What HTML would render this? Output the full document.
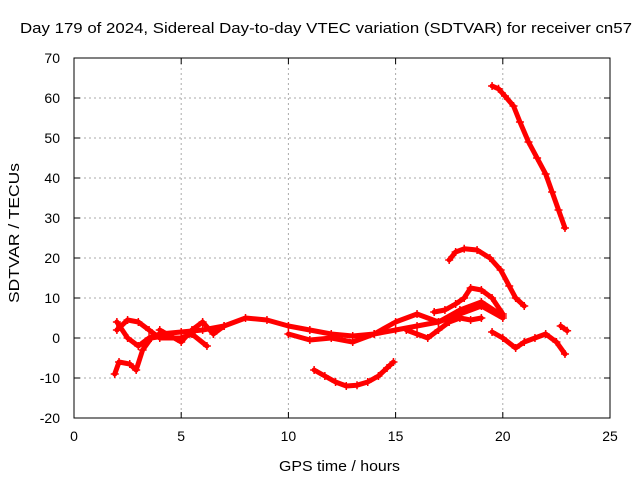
<!DOCTYPE html>
<html><head><meta charset="utf-8"><style>
body{margin:0;background:#fff;}
svg{display:block;font-family:"Liberation Sans",sans-serif;}
</style></head><body>
<svg id="chart" width="640" height="480" viewBox="0 0 640 480"></svg>
<script>
const xTicks=[0,5,10,15,20,25];
const yTicks=[-20,-10,0,10,20,30,40,50,60,70];
const seriesA=[[19.5,63],[19.8,62.3],[20.1,60.5],[20.5,58],[20.8,54],[21.2,49],[21.6,45],[22,41],[22.3,36.5],[22.6,32],[22.9,27.5]];
const seriesB=[[17.5,19.5],[17.8,21.5],[18.2,22.3],[18.8,22],[19.4,20],[19.9,17],[20.3,13],[20.6,10],[21,8]];
const seriesC=[[16.8,6.5],[17.3,7],[17.8,8.5],[18.2,10],[18.5,12.5],[19,12],[19.5,10],[20,6]];
const seriesD=[[11.2,-8],[11.7,-9.5],[12.2,-11],[12.7,-12],[13.2,-11.8],[13.7,-11],[14.2,-9.5],[14.6,-7.5],[14.9,-6]];
const seriesE=[[2,4],[2.5,0],[3,-2],[3.5,0],[4,1],[5,1.5],[6,2],[7,3],[8,5],[9,4.5],[10,3],[11,2],[12,1],[13,0.5],[14,1],[15,2],[16,3],[17,4],[18,6],[19,8],[20,5]];
const seriesF=[[1.9,-9],[2.1,-6],[2.6,-6.5],[2.9,-8],[3.2,-3],[3.6,0],[4.2,0.5]];
const seriesG=[[2,2],[2.5,4.5],[3,4],[3.5,2],[4,0],[5,0],[5.5,1],[6.2,-2]];
const seriesH=[[19.5,1.5],[20,0],[20.6,-2.5],[21,-1],[21.5,0],[22,1],[22.5,-1],[22.9,-4]];
const seriesI=[[22.7,3],[23,1.8]];
const seriesJ=[[15.5,2],[16,1],[16.5,0],[17,2],[17.5,4],[18,5],[18.5,4.5],[19,5]];
const seriesK=[[10,1],[11,-0.5],[12,0],[13,-1],[14,1],[15,4],[16,6],[17,4],[18,7],[19,9],[20,5.5]];
const seriesL=[[4,2],[5,-1],[5.5,2],[6,4],[6.5,1],[7,3]];
const allSeries=[seriesA,seriesB,seriesC,seriesD,seriesE,seriesF,seriesG,seriesH,seriesI,seriesJ,seriesK,seriesL];
const L=74,R=610,T=58,B=418;
const sx=v=>L+(v-0)/25*(R-L);
const sy=v=>B-(v+20)/90*(B-T);
const svg=document.getElementById('chart');
const NS='http://www.w3.org/2000/svg';
function mk(tag,attrs){const e=document.createElementNS(NS,tag);for(const k in attrs)e.setAttribute(k,attrs[k]);svg.appendChild(e);return e;}
xTicks.forEach(t=>{
 if(t>0&&t<25){const g=mk('line',{x1:sx(t),x2:sx(t),y1:T,y2:B,stroke:'#aaa','stroke-dasharray':'2,3'});
 
 }
 const tk=mk('line',{x1:sx(t),x2:sx(t),y1:B,y2:B-6,stroke:'#000'});
 
 
 const tk2=mk('line',{x1:sx(t),x2:sx(t),y1:T,y2:T+6,stroke:'#000'});
 
 
 const tx=mk('text',{x:sx(t),y:B+23,'text-anchor':'middle','font-size':14});tx.textContent=t;
 
 
});
yTicks.forEach(t=>{
 if(t>-20&&t<70){const g=mk('line',{x1:L,x2:R,y1:sy(t),y2:sy(t),stroke:'#aaa','stroke-dasharray':'2,3'});
 
 }
 const tk=mk('line',{x1:L,x2:L+6,y1:sy(t),y2:sy(t),stroke:'#000'});
 
 
 const tk2=mk('line',{x1:R,x2:R-6,y1:sy(t),y2:sy(t),stroke:'#000'});
 
 
 const tx=mk('text',{x:L-14,y:sy(t)+5,'text-anchor':'end','font-size':14});tx.textContent=t;
 
 
});
const frame=mk('rect',{x:L,y:T,width:R-L,height:B-T,fill:'none',stroke:'#000'});


allSeries.forEach(s=>{
 const pts=s.map(p=>sx(p[0])+','+sy(p[1])).join(' ');
 const pl=mk('polyline',{points:pts,fill:'none',stroke:'#f00','stroke-width':5,'stroke-linejoin':'round','stroke-linecap':'round'});
 
 
 s.forEach(p=>{
  const x=sx(p[0]),y=sy(p[1]);
  const m=mk('path',{d:`M${x-4},${y}h8M${x},${y-4}v8`,stroke:'#f00','stroke-width':1.5});
  
  
 });
});
const title=mk('text',{x:20,y:33,'font-size':15,textLength:612,lengthAdjust:'spacingAndGlyphs'});
title.textContent='Day 179 of 2024, Sidereal Day-to-day VTEC variation (SDTVAR) for receiver cn57';


const xl=mk('text',{x:279,y:471,'font-size':15,textLength:121,lengthAdjust:'spacingAndGlyphs'});
xl.textContent='GPS time / hours';


const yl=mk('text',{x:-70,y:0,'font-size':15,textLength:140,lengthAdjust:'spacingAndGlyphs',transform:'translate(19,233) rotate(-90)'});
yl.textContent='SDTVAR / TECUs';


</script>
</body></html>
